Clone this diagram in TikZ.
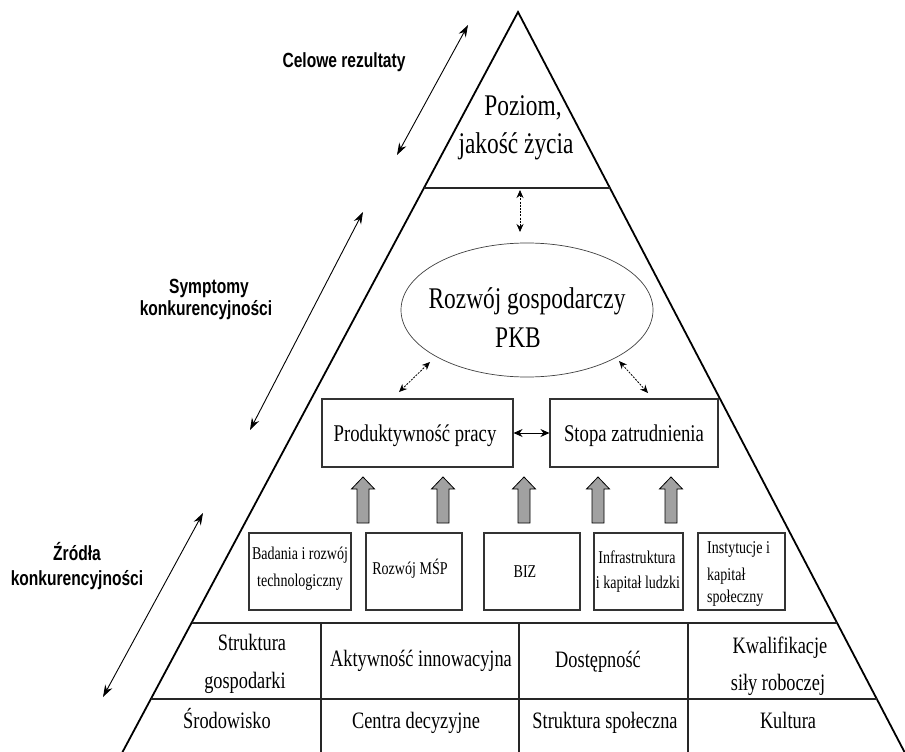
\documentclass[tikz,border=0pt]{standalone}
\usepackage{fontspec}
\setmainfont{Liberation Serif}[FakeStretch=0.78]
\newfontfamily\lblfont{Liberation Sans}[FakeStretch=0.76]
\usetikzlibrary{arrows.meta,shapes.geometric,calc}
\begin{document}
\begin{tikzpicture}[x=1pt,y=-1pt,
  edge/.style={line width=1.8pt,black},
  rowline/.style={line width=1.5pt,black!85},
  bigbox/.style={draw=black!80,line width=1.1pt,minimum width=#1,minimum height=68pt,inner sep=0pt},
  smallbox/.style={draw=black!80,line width=1.1pt,minimum width=#1,minimum height=77pt,inner sep=0pt},
  txtbig/.style={font=\fontsize{30}{36}\selectfont,inner sep=0pt,anchor=base},
  txtmid/.style={font=\fontsize{24}{29}\selectfont,inner sep=0pt,anchor=base},
  txtrow/.style={font=\fontsize{23.5}{28}\selectfont,inner sep=0pt,anchor=base},
  txtsmall/.style={font=\fontsize{18}{22}\selectfont,inner sep=0pt,anchor=base},
  lbl/.style={font=\lblfont\bfseries\fontsize{20.5}{24}\selectfont,inner sep=0pt,anchor=base},
  longarr/.style={line width=0.9pt,{Stealth[length=12pt,width=8pt]}-{Stealth[length=12pt,width=8pt]}},
  smallarr/.style={line width=0.8pt,dash pattern=on 2pt off 1.2pt,{Stealth[length=8pt,width=7pt]}-{Stealth[length=8pt,width=7pt]}},
  solidarr/.style={line width=1pt,{Stealth[length=9pt,width=8pt]}-{Stealth[length=9pt,width=8pt]}},
  uparr/.pic={\draw[black,line width=0.8pt,fill=black!37,line join=miter]
    (-6,23) -- (-6,-11) -- (-11.5,-11) -- (0,-23) -- (11.5,-11) -- (6,-11) -- (6,23) -- cycle;}
]
\fill[white] (0,0) rectangle (905,752);
\useasboundingbox (0,0) rectangle (905,752);

% pyramid
\coordinate (apex) at (518,12);
\coordinate (bl) at (122,753);
\coordinate (br) at (905,753);
\draw[edge] (bl) -- (apex) -- (br);
\coordinate (h1l) at ($(apex)!0.2378!(bl)$);
\coordinate (h1r) at ($(apex)!0.2378!(br)$);
\coordinate (h2l) at ($(apex)!0.8243!(bl)$);
\coordinate (h2r) at ($(apex)!0.8243!(br)$);
\coordinate (h3l) at ($(apex)!0.9270!(bl)$);
\coordinate (h3r) at ($(apex)!0.9270!(br)$);
\draw[rowline] (h1l) -- (h1r);
\draw[rowline] (h2l) -- (h2r);
\draw[rowline] (h3l) -- (h3r);
\coordinate (v1t) at (321,622); \coordinate (v1b) at (321,753);
\coordinate (v2t) at (519,622); \coordinate (v2b) at (519,753);
\coordinate (v3t) at (688,622); \coordinate (v3b) at (688,753);
\draw[rowline] (v1t) -- (v1b);
\draw[rowline] (v2t) -- (v2b);
\draw[rowline] (v3t) -- (v3b);

% top
\node[txtbig] (poz1) at (523,115) {Poziom,};
\node[txtbig] (poz2) at (516,153) {jakość życia};

% ellipse
\node[draw=black!75,line width=0.7pt,ellipse,minimum width=252pt,minimum height=134pt] (ell) at (527,310) {};
\node[txtbig] (rg) at (527,308) {Rozwój gospodarczy};
\node[txtbig] (pkb) at (518,347) {PKB};

\coordinate (ta) at (520,190); \coordinate (tb) at (520,232);
\draw[smallarr] (ta) -- (tb);
\coordinate (la) at (430,362); \coordinate (lb) at (399,392);
\draw[smallarr] (la) -- (lb);
\coordinate (ra) at (619,361); \coordinate (rb) at (648,393);
\draw[smallarr] (ra) -- (rb);

% main boxes
\node[bigbox=191pt] (prod) at (417.5,433) {};
\node[bigbox=168pt] (stopa) at (634,433) {};
\node[txtmid] (prodt) at (415,441) {Produktywność pracy};
\node[txtmid] (stopat) at (634,441) {Stopa zatrudnienia};
\draw[solidarr] (prod.east) -- (stopa.west);

% block arrows
\pic (ba1) at (363,500) {uparr};
\pic (ba2) at (443,500) {uparr};
\pic (ba3) at (524,500) {uparr};
\pic (ba4) at (598,500) {uparr};
\pic (ba5) at (671,500) {uparr};

% small boxes
\node[smallbox=102pt] (b1) at (300,571.5) {};
\node[smallbox=96pt] (b2) at (414,571.5) {};
\node[smallbox=96pt] (b3) at (532,571.5) {};
\node[smallbox=89pt] (b4) at (638.5,571.5) {};
\node[smallbox=87pt] (b5) at (741.5,571.5) {};
\node[txtsmall] (b1a) at (300,559) {Badania i rozwój};
\node[txtsmall] (b1b) at (300,586) {technologiczny};
\node[txtsmall] (b2a) at (410,574) {Rozwój MŚP};
\node[txtsmall] (b3a) at (525,577) {BIZ};
\node[txtsmall] (b4a) at (637,563) {Infrastruktura};
\node[txtsmall] (b4b) at (638,588) {i kapitał ludzki};
\node[txtsmall,anchor=base west] (b5a) at (707,553) {Instytucje i};
\node[txtsmall,anchor=base west] (b5b) at (707,580) {kapitał};
\node[txtsmall,anchor=base west] (b5c) at (707,602) {społeczny};

% rows
\node[txtrow] (r1a) at (252,650) {Struktura};
\node[txtrow] (r1b) at (245,688) {gospodarki};
\node[txtrow] (r2) at (421,666) {Aktywność innowacyjna};
\node[txtrow] (r3) at (598,667) {Dostępność};
\node[txtrow] (r4a) at (780,653) {Kwalifikacje};
\node[txtrow] (r4b) at (778,690) {siły roboczej};
\node[txtrow] (s1) at (227,728) {Środowisko};
\node[txtrow] (s2) at (416,728) {Centra decyzyjne};
\node[txtrow] (s3) at (605,728) {Struktura społeczna};
\node[txtrow] (s4) at (788,728) {Kultura};

% left labels and arrows
\node[lbl] (cel) at (344,67) {Celowe rezultaty};
\node[lbl] (sym1) at (209,293) {Symptomy};
\node[lbl] (sym2) at (206,315) {konkurencyjności};
\node[lbl] (zr1) at (77,560) {Źródła};
\node[lbl] (zr2) at (77,585) {konkurencyjności};
\coordinate (c1a) at (468,25); \coordinate (c1b) at (397,155);
\coordinate (c2a) at (363,212); \coordinate (c2b) at (250,430);
\coordinate (c3a) at (203,513); \coordinate (c3b) at (103,697);
\draw[longarr] (c1a) -- (c1b);
\draw[longarr] (c2a) -- (c2b);
\draw[longarr] (c3a) -- (c3b);
\end{tikzpicture}
\end{document}
